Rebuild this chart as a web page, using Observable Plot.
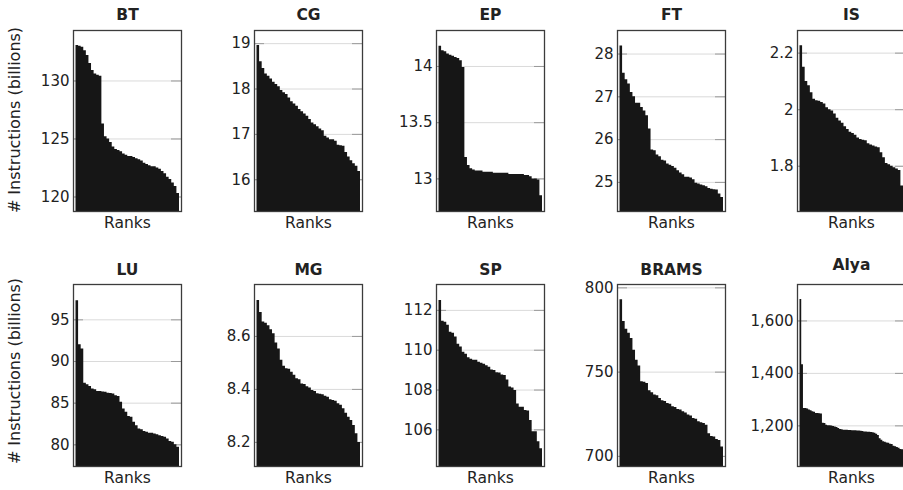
<!DOCTYPE html>
<html><head><meta charset="utf-8">
<script src="https://cdn.jsdelivr.net/npm/d3@7"></script>
<script src="https://cdn.jsdelivr.net/npm/@observablehq/plot@0.6"></script>
<style>
body{margin:0;background:#fff;}
#chart{position:relative;width:903px;height:490px;overflow:hidden;font-family:"DejaVu Sans",sans-serif;}
#chart svg{position:absolute;overflow:visible;}
.ylab{position:absolute;white-space:nowrap;font-size:16px;color:#222;transform:translate(-50%,-50%) rotate(-90deg);line-height:1;}
</style></head><body><div id="chart"></div>
<script>
// Benchmark names (panel order)
const names = ["BT","CG","EP","FT","IS","LU","MG","SP","BRAMS","Alya"];

// Instructions (billions) per rank, sorted descending
const bt = [133.05,133.0,132.9,132.6,132.2,131.5,130.9,130.6,130.5,130.4,126.3,125.2,125.0,124.7,124.3,124.1,124.0,123.9,123.7,123.6,123.5,123.5,123.4,123.3,123.2,123.1,122.9,122.8,122.7,122.6,122.6,122.5,122.4,122.2,122.0,121.7,121.5,121.2,120.9,120.3];
const cg = [18.96,18.6,18.45,18.33,18.28,18.22,18.15,18.1,18.05,17.97,17.92,17.88,17.8,17.72,17.67,17.62,17.55,17.5,17.45,17.4,17.33,17.25,17.21,17.17,17.12,17.08,16.96,16.92,16.88,16.88,16.85,16.76,16.75,16.74,16.6,16.5,16.42,16.35,16.3,16.18];
const ep = [14.18,14.14,14.13,14.11,14.1,14.09,14.08,14.07,14.05,13.99,13.19,13.12,13.09,13.08,13.07,13.07,13.07,13.06,13.06,13.06,13.06,13.05,13.05,13.05,13.05,13.05,13.05,13.04,13.04,13.04,13.04,13.04,13.04,13.03,13.03,13.02,13.0,13.0,12.99,12.85];
const ft = [28.19,27.55,27.4,27.3,27.1,27.0,26.85,26.85,26.75,26.67,26.56,26.25,25.76,25.74,25.64,25.6,25.52,25.5,25.43,25.4,25.37,25.33,25.27,25.22,25.18,25.12,25.12,25.1,25.06,24.98,24.96,24.94,24.92,24.9,24.86,24.84,24.83,24.82,24.73,24.65];
const is = [2.226,2.15,2.10,2.085,2.06,2.037,2.032,2.03,2.025,2.02,2.007,2.0,1.995,1.985,1.97,1.96,1.952,1.94,1.93,1.92,1.916,1.91,1.90,1.895,1.892,1.89,1.88,1.875,1.872,1.868,1.865,1.848,1.83,1.81,1.805,1.80,1.795,1.79,1.785,1.73];
const lu = [97.3,92.0,91.5,87.4,87.2,87.0,86.7,86.6,86.4,86.4,86.35,86.3,86.2,86.15,86.1,85.9,85.8,85.1,84.3,83.9,83.4,83.3,82.7,82.3,81.9,81.8,81.6,81.5,81.4,81.4,81.3,81.2,81.1,81.0,80.9,80.7,80.4,80.3,80.0,79.7];
const mg = [8.736,8.69,8.654,8.65,8.64,8.625,8.61,8.575,8.553,8.51,8.487,8.478,8.476,8.465,8.453,8.44,8.436,8.42,8.419,8.41,8.405,8.396,8.392,8.384,8.382,8.38,8.374,8.37,8.361,8.358,8.355,8.346,8.34,8.327,8.31,8.295,8.283,8.264,8.233,8.2];
const sp = [112.5,111.45,111.4,111.25,110.9,110.85,110.66,110.3,110.16,109.9,109.8,109.62,109.55,109.5,109.5,109.4,109.35,109.3,109.22,109.15,109.0,108.98,108.87,108.85,108.76,108.73,108.5,108.15,108.1,107.98,107.3,107.14,107.14,106.97,106.95,106.47,105.9,105.9,105.4,105.05];
const brams = [793,780,775.5,773,770,763,757,753.7,744.3,744,743.3,739,737.8,736.4,736,734.4,733,732.5,731.4,731,729.4,729,727.8,727.5,726.5,725.8,724.5,723.9,722.5,722,720.5,720,719.5,718.5,713.5,711.8,711.5,710,709.5,705.6];
const alya = [1682,1433,1266,1266,1264,1260,1258,1254,1252,1247,1247,1246,1245,1210,1209,1202,1200,1200,1199,1198,1196,1194,1190,1186,1185,1183,1183,1183,1182,1182,1181,1181,1181,1180,1180,1179,1178,1177,1177,1176,1176,1175,1174,1172,1168,1163,1151,1145,1139,1137,1135,1134,1130,1129,1122,1120,1117,1115,1110,1109];

// Y-axis tick values per panel
const btTicks = [120,125,130];
const cgTicks = [16,17,18,19];
const epTicks = [13,13.5,14];
const ftTicks = [25,26,27,28];
const isTicks = [1.8,2,2.2];
const luTicks = [80,85,90,95];
const mgTicks = [8.2,8.4,8.6];
const spTicks = [106,108,110,112];
const bramsTicks = [700,750,800];
const alyaTicks = [1200,1400,1600];

// Y-axis extents per panel
const btDomain = [118.75,134.35];
const cgDomain = [15.3,19.29];
const epDomain = [12.71,14.32];
const ftDomain = [24.32,28.55];
const isDomain = [1.64,2.28];
const luDomain = [77.4,99.24];
const mgDomain = [8.109,8.796];
const spDomain = [104.16,113.3];
const bramsDomain = [694,802];
const alyaDomain = [1045,1739];

const yLabel = "# Instructions (billions)";
const xLabel = "Ranks";

const series = [bt,cg,ep,ft,is,lu,mg,sp,brams,alya];
const tickSets = [btTicks,cgTicks,epTicks,ftTicks,isTicks,luTicks,mgTicks,spTicks,bramsTicks,alyaTicks];
const domains = [btDomain,cgDomain,epDomain,ftDomain,isDomain,luDomain,mgDomain,spDomain,bramsDomain,alyaDomain];

const container = document.getElementById("chart");
const colLefts = [73, 254, 436, 617, 797];
const rowTops = [30, 284];
const rowHeights = [181, 182];
const FW = 108, mL = 70, mR = 10, mT = 30, mB = 30;
const fmt = d3.format(",");

names.forEach((name, k) => {
  const col = k % 5, row = Math.floor(k / 5);
  const vals = series[k];
  const n = vals.length;
  const ymin = domains[k][0];
  const steps = vals.map((v, i) => ({x: i, v}));
  steps.push({x: n, v: vals[n - 1]});
  const fh = rowHeights[row];
  const marks = [
    Plot.ruleY(tickSets[k], {stroke: "#dadada", strokeWidth: 1}),
    Plot.ruleY(tickSets[k], {stroke: "#9a9a9a", strokeWidth: 1, insetLeft: FW - 10}),
    Plot.ruleY(tickSets[k], {stroke: "#9a9a9a", strokeWidth: 1, insetRight: FW - 10}),
    Plot.areaY(steps, {x: "x", y1: ymin, y2: "v", curve: "step-after", fill: "#161616"}),
    Plot.frame({stroke: "#3c3c3c", strokeWidth: 1.3}),
    Plot.text([name], {frameAnchor: "top", lineAnchor: "middle", dy: name === "Alya" ? -19 : (row === 0 ? -15 : -14), fontWeight: "bold", fontSize: 15.5, fill: "#222"}),
    Plot.text([xLabel], {frameAnchor: "bottom", lineAnchor: "middle", dy: 12, fontSize: 15.5, fill: "#222"})
  ];
  const svg = Plot.plot({
    width: mL + FW + mR,
    height: mT + fh + mB,
    marginLeft: mL, marginRight: mR, marginTop: mT, marginBottom: mB,
    style: {fontFamily: "DejaVu Sans", fontSize: "15px", color: "#222", background: "transparent", overflow: "visible"},
    x: {type: "linear", domain: [0, n], insetLeft: 2.5, insetRight: 2, axis: null},
    y: {domain: domains[k], ticks: tickSets[k], tickFormat: fmt, tickSize: 0, tickPadding: 4, label: null},
    marks
  });
  svg.style.left = (colLefts[col] - mL) + "px";
  svg.style.top = (rowTops[row] - mT) + "px";
  container.appendChild(svg);
});

// Shared y-axis label, one per row
[120, 371].forEach(cy => {
  const d = document.createElement("div");
  d.className = "ylab";
  d.textContent = yLabel;
  d.style.left = "15px";
  d.style.top = cy + "px";
  container.appendChild(d);
});
</script></body></html>
